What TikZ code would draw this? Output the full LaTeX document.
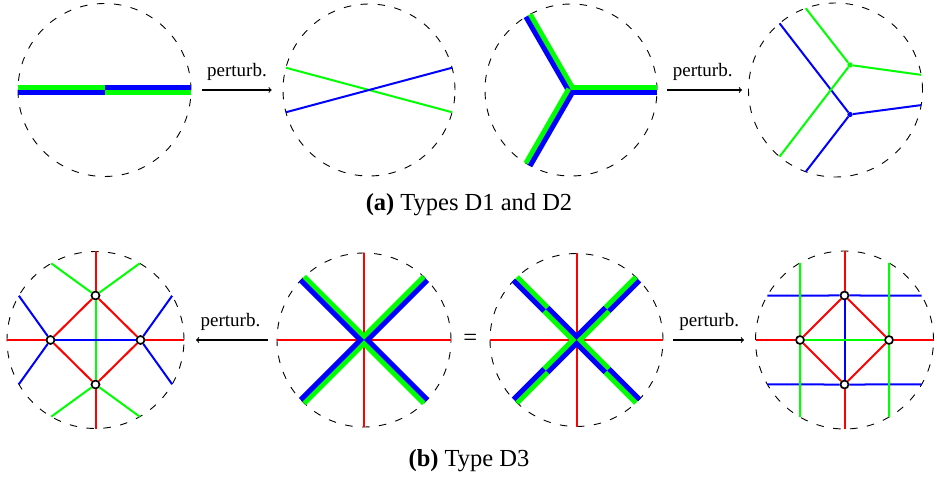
\documentclass[tikz,border=0pt]{standalone}
\usepackage{fontspec}
\setmainfont{Liberation Serif}
\usetikzlibrary{calc}
\definecolor{edgegreen}{RGB}{0,255,0}
\definecolor{edgeblue}{RGB}{0,0,255}
\definecolor{edgered}{RGB}{255,0,0}

\begin{document}
\begin{tikzpicture}[x=1pt, y=1pt,
  disc/.style={circle, draw=black, dash pattern=on 7.5pt off 9.5pt, line width=0.9pt, inner sep=0pt, outer sep=0pt},
  gwire/.style={draw=edgegreen, line width=2pt},
  bwire/.style={draw=edgeblue, line width=2pt},
  rwire/.style={draw=edgered, line width=2pt},
  gband/.style={draw=edgegreen, line width=5pt},
  bband/.style={draw=edgeblue, line width=5pt},
  vertex/.style={circle, draw=black, fill=white, line width=1.7pt, minimum size=8pt, inner sep=0pt},
  junc/.style={circle, inner sep=0pt, minimum size=5.4pt},
  arr/.style={->, line width=1.1pt},
  lbl/.style={font=\fontsize{19}{22}\selectfont, above=6pt, midway},
  captext/.style={font=\fontsize{24.5}{28}\selectfont}
]
  \useasboundingbox (0,0) rectangle (937,477);

  % top row
  \node[disc, minimum size=173pt] (c1) at (104.5,387) {};
  \node[disc, minimum size=172pt] (c2) at (369,387) {};
  \node[disc, minimum size=172pt] (c3) at (571,387) {};
  \node[disc, minimum size=174pt] (c4) at (835.5,387) {};
  \coordinate (o1) at (c1.center);
  \coordinate (o3) at (c3.center);

  % D1
  \foreach \a/\s/\t in {180/-90/90, 0/-90/90} {
    \draw[gband] ($(o1)!2.5pt!\s:(c1.\a)$) -- ($(c1.\a)!2.5pt!\t:(o1)$);
    \draw[bband] ($(o1)!2.5pt!\t:(c1.\a)$) -- ($(c1.\a)!2.5pt!\s:(o1)$);
  }
  \draw[gwire] (c2.165) -- (c2.345);
  \draw[bwire] (c2.195) -- (c2.15);

  % D2
  \foreach \a/\s/\t in {0/90/-90, 120/-90/90, 240/-90/90} {
    \draw[gband] ($(o3)!2.5pt!\s:(c3.\a)$) -- ($(c3.\a)!2.5pt!\t:(o3)$);
    \draw[bband] ($(o3)!2.5pt!\t:(c3.\a)$) -- ($(c3.\a)!2.5pt!\s:(o3)$);
  }
  \node[junc, fill=edgegreen] (g4) at ($(c4.center)+(14.5,25)$) {};
  \node[junc, fill=edgeblue] (b4) at ($(c4.center)+(14.5,-24.5)$) {};
  \foreach \a in {350,130,250}
    \draw[bwire] (b4) -- (c4.\a);
  \foreach \a in {10,110,230}
    \draw[gwire] (g4) -- (c4.\a);

  \draw[arr, shorten <=10.7pt, shorten >=11.3pt] (c1) -- (c2) node[lbl] {perturb.};
  \draw[arr, shorten <=10pt, shorten >=6.5pt] (c3) -- (c4) node[lbl] {perturb.};
  \node[captext] (capa) at (469,272) {\textbf{(a)} Types D1 and D2};

  % bottom row
  \node[disc, minimum size=177pt] (c5) at (95.5,137) {};
  \node[disc, minimum size=174pt] (c6) at (364,137) {};
  \node[disc, minimum size=173pt] (c7) at (576.5,137) {};
  \node[disc, minimum size=178pt] (c8) at (844.5,137) {};
  \coordinate (o6) at (c6.center);
  \coordinate (o7) at (c7.center);

  % D3, left
  \node[vertex] (t5) at ($(c5.center)+(0,44.5)$) {};
  \node[vertex] (b5) at ($(c5.center)+(0,-44.5)$) {};
  \node[vertex] (l5) at ($(c5.center)+(-45,0)$) {};
  \node[vertex] (r5) at ($(c5.center)+(45,0)$) {};
  \draw[gwire] (t5) -- (b5);
  \draw[bwire] (l5) -- (r5);
  \draw[gwire] (c5.120) -- (t5) -- (c5.60);
  \draw[gwire] (c5.240) -- (b5) -- (c5.300);
  \draw[bwire] (c5.150) -- (l5) -- (c5.210);
  \draw[bwire] (c5.30) -- (r5) -- (c5.330);
  \draw[rwire] (t5) -- (r5) -- (b5) -- (l5) -- (t5);
  \draw[rwire] (c5.90) -- (t5);
  \draw[rwire] (b5) -- (c5.270);
  \draw[rwire] (c5.180) -- (l5);
  \draw[rwire] (r5) -- (c5.0);

  % D3, middle
  \draw[rwire] (c6.90) -- (c6.270);
  \draw[rwire] (c6.180) -- (c6.0);
  \foreach \a/\s/\t in {45/90/-90, 225/90/-90, 135/-90/90, 315/-90/90} {
    \draw[gband] ($(o6)!2.5pt!\s:(c6.\a)$) -- ($(c6.\a)!2.5pt!\t:(o6)$);
    \draw[bband] ($(o6)!2.5pt!\t:(c6.\a)$) -- ($(c6.\a)!2.5pt!\s:(o6)$);
  }
  \node[captext] (eq) at ($(c6)!0.5!(c7)$) {=};

  \draw[rwire] (c7.90) -- (c7.270);
  \draw[rwire] (c7.180) -- (c7.0);
  \foreach \a/\s/\t in {45/90/-90, 225/90/-90, 135/-90/90, 315/-90/90} {
    \coordinate (m7) at ($(o7)!0.5!(c7.\a)$);
    \draw[gband] ($(m7)!2.5pt!\s:(c7.\a)$) -- ($(c7.\a)!2.5pt!\t:(m7)$);
    \draw[bband] ($(m7)!2.5pt!\t:(c7.\a)$) -- ($(c7.\a)!2.5pt!\s:(m7)$);
    \draw[gband] ($(o7)!2.5pt!\t:(m7)$) -- ($(m7)!2.5pt!\s:(o7)$);
    \draw[bband] ($(o7)!2.5pt!\s:(m7)$) -- ($(m7)!2.5pt!\t:(o7)$);
  }

  % D3, right
  \node[vertex] (t8) at ($(c8.center)+(0,44.5)$) {};
  \node[vertex] (b8) at ($(c8.center)+(0,-44.5)$) {};
  \node[vertex] (l8) at ($(c8.center)+(-44.5,0)$) {};
  \node[vertex] (r8) at ($(c8.center)+(44.5,0)$) {};
  \draw[bwire] (t8) -- (b8);
  \draw[gwire] (l8) -- (r8);
  \draw[bwire] (c8.150) -- (t8) -- (c8.30);
  \draw[bwire] (c8.210) -- (b8) -- (c8.330);
  \draw[gwire] (c8.120) -- (l8) -- (c8.240);
  \draw[gwire] (c8.60) -- (r8) -- (c8.300);
  \draw[rwire] (t8) -- (r8) -- (b8) -- (l8) -- (t8);
  \draw[rwire] (c8.90) -- (t8);
  \draw[rwire] (b8) -- (c8.270);
  \draw[rwire] (c8.180) -- (l8);
  \draw[rwire] (r8) -- (c8.0);

  \draw[arr, shorten <=8.7pt, shorten >=12pt] (c6) -- (c5) node[lbl] {perturb.};
  \draw[arr, shorten <=9.7pt, shorten >=11.5pt] (c7) -- (c8) node[lbl] {perturb.};
  \node[captext] (capb) at (469,16) {\textbf{(b)} Type D3};
\end{tikzpicture}
\end{document}
